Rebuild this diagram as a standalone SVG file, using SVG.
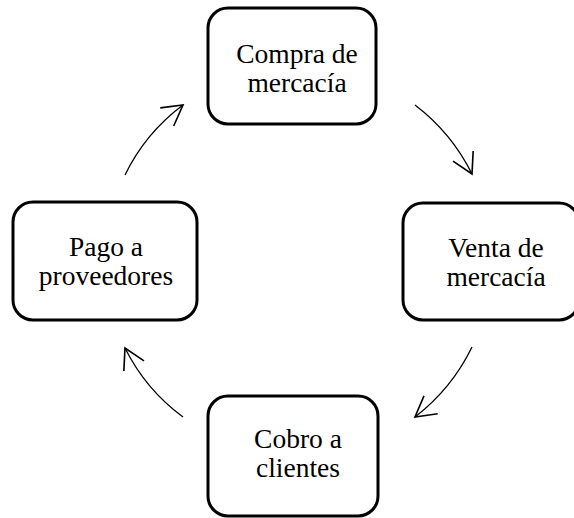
<svg xmlns="http://www.w3.org/2000/svg" width="574" height="518" viewBox="0 0 574 518">
<style>
.box{fill:#fff;stroke:#000;stroke-width:3}
.lbl{font-family:"Liberation Serif","Times New Roman",serif;font-size:27.5px;fill:#000;text-anchor:middle}
.arc{fill:none;stroke:#000;stroke-width:1.3;marker-end:url(#ah)}
</style>
<defs>
<marker id="ah" markerUnits="userSpaceOnUse" markerWidth="30" markerHeight="30" viewBox="-20 -12 24 24" refX="0" refY="0" orient="auto">
<path d="M-16,-9 L0,0 L-16,9" fill="none" stroke="#000" stroke-width="1.3"/>
</marker>
</defs>
<rect width="574" height="518" fill="#fff"/>
<g id="connectors">
<path class="arc" d="M415,105 A197,197 0 0 1 472,174"/>
<path class="arc" d="M472,347 A197,197 0 0 1 415,417"/>
<path class="arc" d="M183,417 A192,192 0 0 1 125,348"/>
<path class="arc" d="M125,175 A192,192 0 0 1 183,105"/>
</g>
<g id="compra">
<rect class="box" x="208" y="8" width="168" height="116" rx="20"/>
<text class="lbl" x="297" y="63">Compra de</text>
<text class="lbl" x="297" y="92">mercacía</text>
</g>
<g id="venta">
<rect class="box" x="403" y="203" width="176" height="117" rx="20"/>
<text class="lbl" x="496" y="257">Venta de</text>
<text class="lbl" x="496" y="286">mercacía</text>
</g>
<g id="cobro">
<rect class="box" x="208" y="396" width="170" height="120" rx="20"/>
<text class="lbl" x="298" y="448">Cobro a</text>
<text class="lbl" x="298" y="477">clientes</text>
</g>
<g id="pago">
<rect class="box" x="13" y="202" width="184" height="118" rx="20"/>
<text class="lbl" x="106" y="256">Pago a</text>
<text class="lbl" x="106" y="285">proveedores</text>
</g>
</svg>
